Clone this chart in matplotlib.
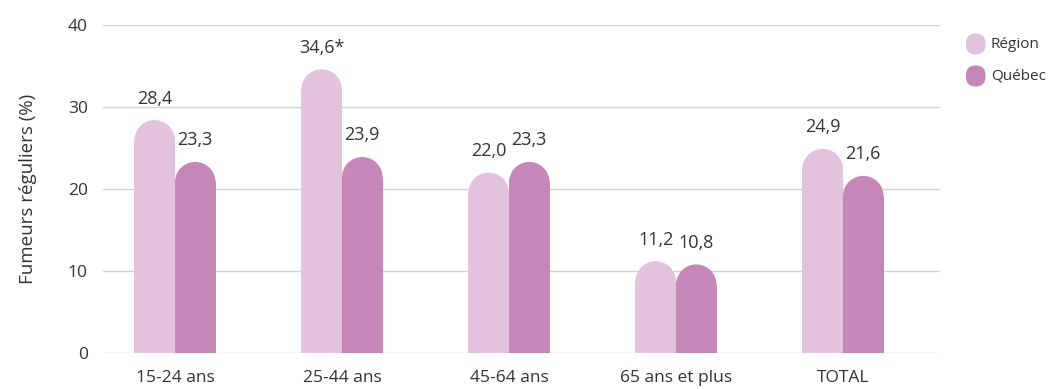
import matplotlib
matplotlib.use("Agg")
import matplotlib.pyplot as plt
from matplotlib.patches import Ellipse, FancyBboxPatch

plt.rcParams['font.family'] = ['Open Sans', 'DejaVu Sans']

categories = ["15-24 ans", "25-44 ans", "45-64 ans", "65 ans et plus", "TOTAL"]
region = [28.4, 34.6, 22.0, 11.2, 24.9]
quebec = [23.3, 23.9, 23.3, 10.8, 21.6]
region_labels = ["28,4", "34,6*", "22,0", "11,2", "24,9"]
quebec_labels = ["23,3", "23,9", "23,3", "10,8", "21,6"]
series_names = ["Région", "Québec"]
yticks = [0, 10, 20, 30, 40]

c_region = "#e2c2dc"
c_quebec = "#c586b8"
text_color = "#333333"
grid_color = "#d2d2d2"

W, H, DPI = 1056, 389, 100
fig = plt.figure(figsize=(W / DPI, H / DPI), dpi=DPI)
ax = fig.add_axes([103 / W, 1 - 353 / H, (940 - 103) / W, (353 - 25) / H])

ax.set_xlim(-0.431, 4.581)
ax.set_ylim(0, 40)

bw = 0.243
# vertical radius of the rounded cap, in data units, so the cap is round on screen
px_per_x = (940 - 103) / (4.581 + 0.431)
px_per_y = (353 - 25) / 40
r_px = bw * px_per_x / 2
ry = r_px / px_per_y


def rounded_bar(x, v, color):
    ax.bar(x, v - ry, width=bw, color=color, linewidth=0, zorder=2)
    ax.add_patch(Ellipse((x, v - ry), bw, 2 * ry, facecolor=color,
                         linewidth=0, zorder=2))


for i, (r, q) in enumerate(zip(region, quebec)):
    xr = i - bw / 2
    xq = i + bw / 2
    rounded_bar(xr, r, c_region)
    rounded_bar(xq, q, c_quebec)
    ax.annotate(region_labels[i], (xr, r), xytext=(0, 15.5), textcoords="offset points",
                ha="center", va="center", fontsize=13, color=text_color)
    ax.annotate(quebec_labels[i], (xq, q), xytext=(0, 15.5), textcoords="offset points",
                ha="center", va="center", fontsize=13, color=text_color)

ax.set_yticks(yticks)
ax.set_yticklabels([str(t) for t in yticks])
ax.set_xticks(range(len(categories)))
ax.set_xticklabels(categories)
ax.tick_params(axis="y", length=0, pad=11, labelsize=12.5, labelcolor=text_color)
ax.tick_params(axis="x", length=0, pad=12, labelsize=12.5, labelcolor=text_color)
ax.yaxis.grid(True, color=grid_color, linewidth=1)
ax.set_axisbelow(True)
for s in ax.spines.values():
    s.set_visible(False)
ax.set_ylabel("Fumeurs réguliers (%)", fontsize=13.5, color=text_color, labelpad=22)

# legend drawn in pixel space on an overlay
lax = fig.add_axes([0, 0, 1, 1], facecolor="none")
lax.set_xlim(0, W)
lax.set_ylim(H, 0)
lax.axis("off")
for name, col, yc in [(series_names[0], c_region, 44), (series_names[1], c_quebec, 76)]:
    lax.add_patch(FancyBboxPatch((966 + 9.5, yc - 10.5 + 9.5), 0.5, 2,
                                 boxstyle="round,pad=9.5", facecolor=col, linewidth=0))
    lax.text(991, yc, name, fontsize=11, color=text_color, va="center", ha="left")

fig.savefig("out.png", dpi=DPI)
